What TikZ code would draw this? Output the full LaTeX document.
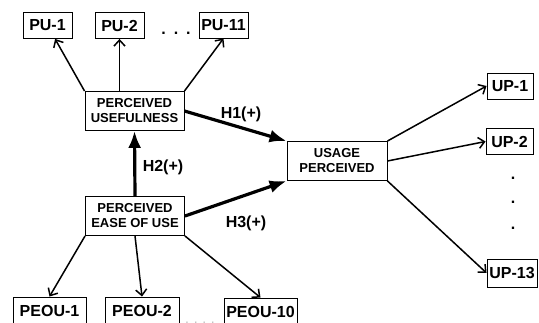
\documentclass[tikz,border=0pt]{standalone}
\usepackage{fontspec}
\setmainfont{Liberation Sans}
\usepackage{tikz}
\usetikzlibrary{arrows.meta}

\begin{document}
\begin{tikzpicture}[x=1pt,y=-1pt,
  item/.style={draw, line width=0.9pt, inner sep=0pt, minimum width=#1, minimum height=26pt, font=\fontsize{16}{18}\selectfont\bfseries},
  construct/.style={draw, line width=0.9pt, inner sep=0pt, minimum width=99pt, minimum height=39pt, align=center, font=\fontsize{13}{15}\selectfont\bfseries},
  thin/.style={line width=1.5pt, -{Straight Barb[length=6pt,width=11pt]}},
  thick/.style={line width=3.2pt, -{Latex[length=17pt,width=13pt]}},
  hyp/.style={font=\fontsize{16}{18}\selectfont\bfseries}]
\useasboundingbox (0,0) rectangle (539,323);
\clip (0,0) rectangle (539,323);

% indicators of usefulness
\node [item=49pt] (pu1) at (47.5,25.5) {PU-1};
\node [item=49pt] (pu2) at (119.5,25.5) {PU-2};
\node [item=49pt] (pu11) at (223.5,25) {PU-11};
\node at (176,33) {\fontsize{16}{18}\selectfont\bfseries .\hspace{8pt}.\hspace{8pt}.};

% constructs
\node [construct] (pu) at (134.5,111) {PERCEIVED\\USEFULNESS};
\node [construct] (peou) at (135,216) {PERCEIVED\\EASE OF USE};
\node [construct, minimum width=100pt] (usage) at (337,161) {USAGE\\PERCEIVED};

% indicators of usage
\node [item=46pt] (up1) at (510,86) {UP-1};
\node [item=47pt] (up2) at (509.5,141.5) {UP-2};
\node [item=50pt, minimum height=28pt] (up13) at (512,273) {UP-13};
\node at (513,178) {\fontsize{16}{18}\selectfont\bfseries .};
\node at (513,202) {\fontsize{16}{18}\selectfont\bfseries .};
\node at (513,228) {\fontsize{16}{18}\selectfont\bfseries .};

% indicators of ease of use
\node [item=73pt, minimum height=27pt] (peou1) at (49.5,310.5) {PEOU-1};
\node [item=74pt, minimum height=27pt] (peou2) at (142,310.5) {PEOU-2};
\node [item=73pt, minimum height=27pt] (peou10) at (260.5,311.5) {PEOU-10};
\node [gray!50, anchor=base] at (200,324) {\fontsize{14}{16}\selectfont .\,\,.\,\,.\,\,.};

% outgoing arrows
\draw [thin] (pu.north west) -- (pu1);
\draw [thin] (pu2 |- pu.north) -- (pu2);
\draw [thin] (pu.north east) -- (pu11.south);
\draw [thin] (usage.north east) -- (up1.west);
\draw [thin] (usage.east) -- (up2.west);
\draw [thin] (usage.south east) -- (up13.west);
\draw [thin] (peou.south west) -- (peou1.north);
\draw [thin] (peou.south) -- (peou2.north);
\draw [thin] (peou.south east) -- (peou10.north);

% hypotheses
\draw [thick] (pu.east) -- (usage.north west);
\draw [thick] (peou.north) -- (pu.south);
\draw [thick] (peou.east) -- (usage.south west);
\node [hyp] (h1) at (241,114) {H1(+)};
\node [hyp] (h2) at (163,167) {H2(+)};
\node [hyp] (h3) at (246,223) {H3(+)};
\end{tikzpicture}
\end{document}
